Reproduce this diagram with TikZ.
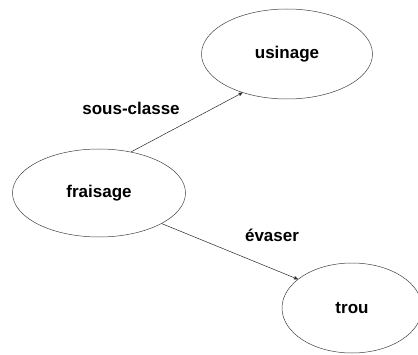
\documentclass[tikz,border=0pt]{standalone}
\usepackage{fontspec}
\setmainfont{Liberation Sans}
\usepackage{tikz}
\usetikzlibrary{positioning,shapes,arrows}
\tikzset{
  concept/.style = {ellipse, draw=black!75, line width=0.5pt, inner sep=0pt,
                    font=\bfseries\fontsize{17}{20}\selectfont},
  rel/.style     = {font=\bfseries\fontsize{17}{20}\selectfont},
  edge/.style    = {->, >=stealth', line width=0.5pt, draw=black!85}
}

\begin{document}
\begin{tikzpicture}[x=1pt,y=1pt]
  \useasboundingbox (0,0) rectangle (418,354);
  \node[concept, minimum width=171, minimum height=90] (usinage)  at (287,300) {usinage};
  \node[concept, minimum width=173, minimum height=88] (fraisage) at (99,161)  {fraisage};
  \node[concept, minimum width=140, minimum height=90] (trou)     at (352,46)  {trou};
  \draw[edge] (fraisage.52) -- (usinage.221);
  \draw[edge] (fraisage.-26) -- (trou.152);
  \node[rel] (sc) at (131,246) {sous-classe};
  \node[rel] (ev) at (272,119) {évaser};
\end{tikzpicture}
\end{document}
